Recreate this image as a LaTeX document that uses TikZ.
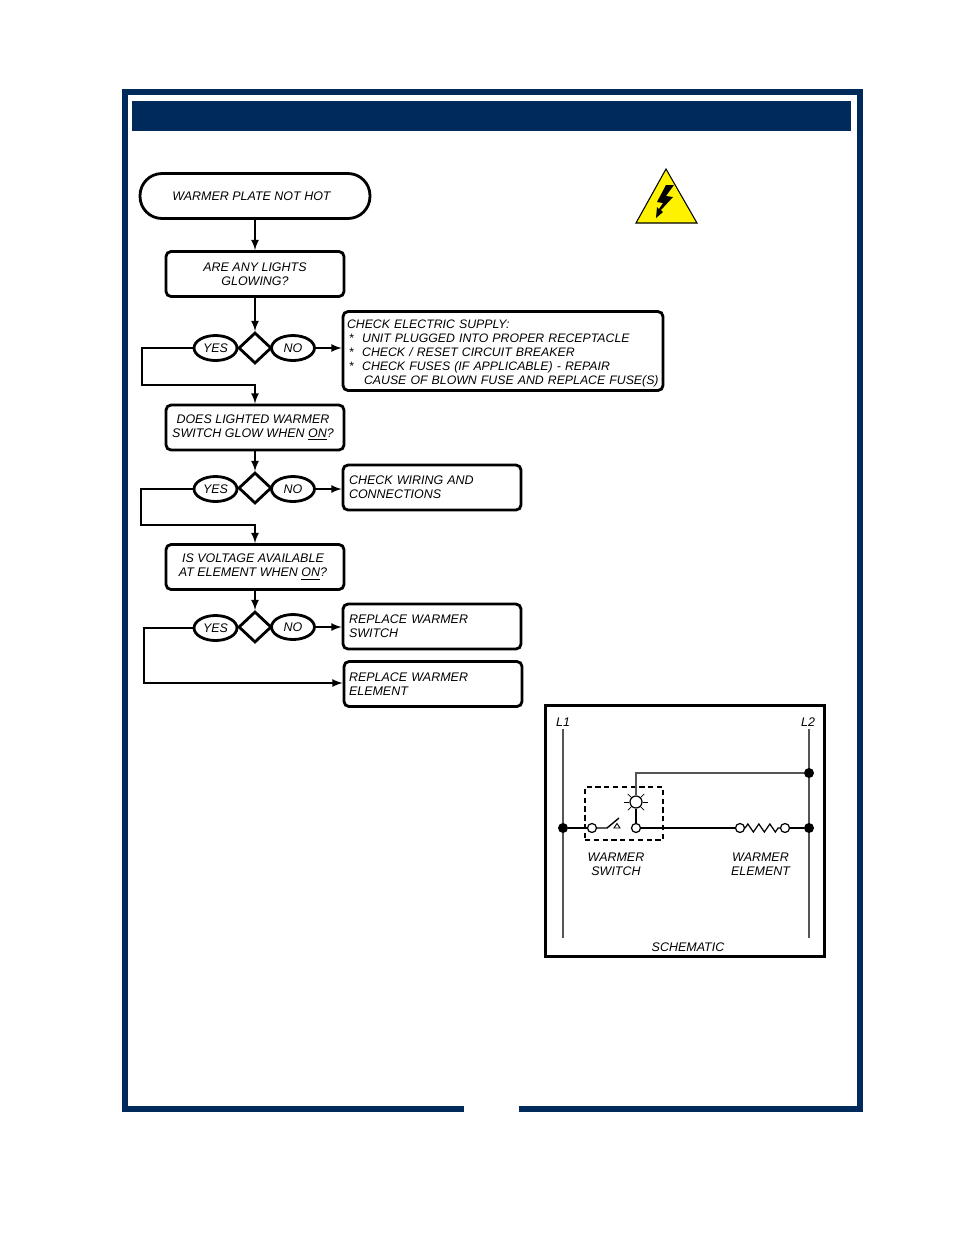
\documentclass[tikz,border=0pt]{standalone}
\usepackage{fontspec}
\setmainfont{Liberation Sans}
\usetikzlibrary{shapes.geometric,decorations.pathmorphing}
\definecolor{navy}{HTML}{002A5C}
\definecolor{wire}{HTML}{555555}
\newcommand{\starline}[1]{\makebox[8.6pt][l]{\hspace{1pt}*}#1}
\newcommand{\nudge}{\kern2.3pt\mbox{}}
\begin{document}
\begin{tikzpicture}[x=0.02cm,y=-0.02cm,
	every node/.style={font=\fontsize{7.1}{8}\selectfont\itshape,inner sep=0pt},
	start/.style={rectangle,draw,line width=1.6pt,rounded corners=.44cm,minimum width=4.6cm,minimum height=.9cm},
	qbox/.style={rectangle,draw,line width=1.6pt,rounded corners=.1cm,minimum width=3.56cm,minimum height=.9cm,align=center},
	abox/.style={rectangle,draw,line width=1.6pt,rounded corners=.1cm,minimum width=3.56cm,minimum height=.9cm,text width=3.32cm,align=left},
	choice/.style={diamond,draw,line width=1.6pt,minimum width=.66cm,minimum height=.62cm,aspect=1},
	answer/.style={ellipse,draw,line width=1.6pt,minimum width=.86cm,minimum height=.5cm},
	flow/.style={-latex,line width=1pt},
	plain/.style={line width=.8pt},
	term/.style={circle,draw,fill=white,line width=.7pt,minimum size=.18cm},
	dot/.style={circle,fill=black,minimum size=.2cm},
	node distance=.79cm]

	\useasboundingbox (0,0) rectangle (954,1235);

	% frame and title bar
	\draw[navy,line width=3.4pt] (464,1109) -- (125,1109) -- (125,92) -- (860,92) -- (860,1109) -- (519,1109);
	\fill[navy] (132,101) rectangle (851,131);

	% warning sign
	\draw[fill=yellow,line width=.6pt] (666,169) -- (697,223) -- (636,223) -- cycle;
	\fill (666,185) -- (674,185) -- (666,196) -- (673,197) -- (661,210) -- (663,212) -- (656,218) -- (657,207) -- (659,209) -- (663,203) -- (657,202) -- cycle;

	% flow chart
	\node[start] (notHot) at (255,196) {WARMER PLATE NOT HOT\kern4pt\mbox{}};
	\node[qbox] (lights) at (255,274) {ARE ANY LIGHTS\\GLOWING?};
		\path[flow] (notHot) edge (lights);

	\node[choice] (choiceA) at (255,348) {};
		\path[flow] (lights) edge (choiceA);
		\node[answer,left of=choiceA] (yesA) {YES};
		\node[answer,right of=choiceA,node distance=.76cm] (noA) {NO};
		\node[rectangle,draw,line width=1.6pt,rounded corners=.1cm,minimum width=6.4cm,minimum height=1.58cm,text width=6.24cm,align=left,font=\fontsize{7}{8}\selectfont\itshape] (supply) at (503,351) {\rule{0pt}{7.5pt}CHECK ELECTRIC SUPPLY:\\
			\starline{UNIT PLUGGED INTO PROPER RECEPTACLE}\\
			\starline{CHECK / RESET CIRCUIT BREAKER}\\
			\starline{CHECK FUSES (IF APPLICABLE) - REPAIR}\\
			\hspace*{9.7pt}\mbox{CAUSE OF BLOWN FUSE AND REPLACE FUSE(S)}};
		\path[flow] (noA) edge (noA -| supply.west);

	\node[qbox] (glow) at (255,427.5) {DOES LIGHTED WARMER\nudge\\SWITCH GLOW WHEN \underline{ON}?\nudge};
		\coordinate (bendA) at (142,385);
		\draw[flow] (yesA) -| (bendA) -| (glow);

	\node[choice] (choiceB) at (255,488) {};
		\path[flow] (glow) edge (choiceB);
		\node[answer,left of=choiceB,yshift=-.02cm] (yesB) {YES};
		\node[answer,right of=choiceB,node distance=.76cm,yshift=-.02cm] (noB) {NO};
		\node[abox] (wiring) at (432,487.5) {CHECK WIRING AND\\CONNECTIONS};
		\path[flow] (noB) edge (noB -| wiring.west);

	\node[qbox] (voltage) at (255,567) {IS VOLTAGE AVAILABLE\nudge\\AT ELEMENT WHEN \underline{ON}?\nudge};
		\coordinate (bendB) at (141,525);
		\draw[flow] (yesB) -| (bendB) -| (voltage);

	\node[choice] (choiceC) at (255,627) {};
		\path[flow] (voltage) edge (choiceC);
		\node[answer,left of=choiceC,yshift=-.02cm] (yesC) {YES};
		\node[answer,right of=choiceC,node distance=.76cm] (noC) {NO};
		\node[abox] (rSwitch) at (432,626.5) {REPLACE WARMER\\SWITCH};
		\path[flow] (noC) edge (noC -| rSwitch.west);

	\node[abox,text width=3.36cm] (rElement) at (433,684) {REPLACE WARMER\\ELEMENT};
		\coordinate (bendC) at (144,683);
		\draw[flow] (yesC) -| (bendC) -- (bendC -| rElement.west);

	% schematic
	\node[rectangle,draw,line width=1.6pt,minimum width=5.58cm,minimum height=5.02cm] (schematic) at (685,831) {};
	\node (lOne) at (563,722) {L1};
	\node (lTwo) at (808,722) {L2};
	\coordinate (lOneEnd) at (563,938);
	\coordinate (lTwoEnd) at (809,938);
	\draw[wire,line width=.9pt] (lOne.south) ++(0,2) -- (lOneEnd);
	\draw[wire,line width=.9pt] (lTwo.south) ++(1,2) -- (lTwoEnd);

	\node[dot] (dotA) at (563,828) {};
	\node[dot] (dotB) at (809,828) {};
	\node[dot] (dotC) at (809,773) {};

	\node[rectangle,draw,densely dashed,line width=.6pt,minimum width=1.56cm,minimum height=1.06cm] (switchBox) at (624,813.5) {};

	\node[term] (swIn) at (592,828) {};
	\node[term] (swOut) at (636,828) {};
	\node[term] (elIn) at (740,828) {};
	\node[term] (elOut) at (785,828) {};
	\node[circle,draw,line width=.7pt,minimum size=.24cm] (lamp) at (636,802) {};
	\foreach \ang in {0,45,135,180,225,315} {
		\draw[line width=.4pt] (lamp.\ang) -- ++({\ang}:.1cm);
	}
	\coordinate (bladeA) at (607,828);
	\coordinate (bladeB) at (619,818);
	\coordinate (wireTop) at (636,773);

	\draw[plain] (dotA) -- (swIn);
	\draw[plain] (swIn) -- (bladeA) -- (bladeB);
	\draw[line width=.5pt] (614,828) -- (617,823.5) -- (620,828) -- cycle;
	\draw[plain] (swOut) -- (elIn);
	\draw[plain] (swOut) -- (lamp);
	\draw[plain] (elOut) -- (dotB);
	\draw[line width=.7pt,decorate,decoration={zigzag,segment length=.22cm,amplitude=.08cm}] (elIn) -- (elOut);
	\draw[wire,line width=.8pt] (lamp) -- (wireTop) -- (dotC);

	\node[align=center] (swLabel) at (616,864.5) {WARMER\\SWITCH};
	\node[align=center] (elLabel) at (760.5,864.5) {WARMER\\ELEMENT};
	\node (schLabel) at (688,947) {SCHEMATIC};
\end{tikzpicture}
\end{document}
